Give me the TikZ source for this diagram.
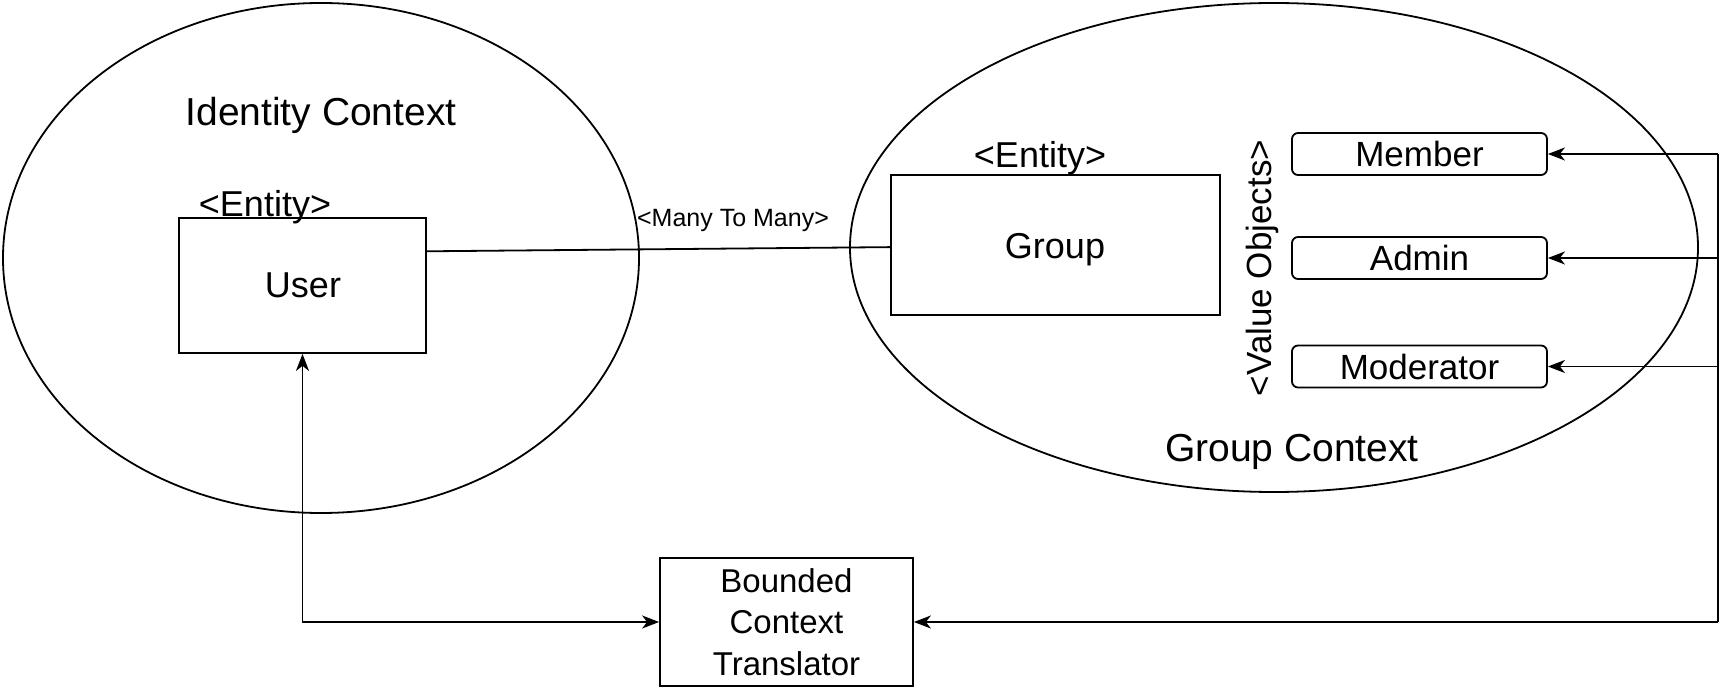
\documentclass[tikz,border=0pt]{standalone}
\usepackage{fontspec}
\setmainfont{Liberation Sans}
\usetikzlibrary{shapes.geometric,arrows.meta,calc}
\newcommand{\FontBig}{\fontsize{39}{44}\selectfont}
\newcommand{\FontMid}{\fontsize{36}{42}\selectfont}
\newcommand{\FontVO}{\fontsize{35}{42}\selectfont}
\newcommand{\FontBox}{\fontsize{35}{40}\selectfont}
\newcommand{\FontSmall}{\fontsize{25}{30}\selectfont}
\newcommand{\FontTr}{\fontsize{33}{41.5}\selectfont}
\begin{document}
\begin{tikzpicture}[x=1pt,y=-1pt,line width=1.8pt,
  ctx/.style={draw, ellipse, inner sep=0pt},
  ent/.style={draw, rectangle, inner sep=0pt},
  vo/.style={draw, rectangle, rounded corners=6pt, inner sep=0pt,
             minimum width=255pt, minimum height=42pt, font=\FontBox},
  lbl/.style={anchor=base, inner sep=0pt},
  arr/.style={-{Stealth[length=17pt,width=13pt,inset=5pt]}},
  biarr/.style={{Stealth[length=17pt,width=13pt,inset=5pt]}-{Stealth[length=17pt,width=13pt,inset=5pt]}}
]
\fill[white] (0,0) rectangle (1725,692);
\useasboundingbox (0,0) rectangle (1725,692);

% contexts
\node[ctx, minimum width=636pt, minimum height=510pt] (idctx) at (321,258) {};
\node[ctx, minimum width=848pt, minimum height=489pt] (grctx) at (1274,247.5) {};
\node[lbl, font=\FontBig] (idlabel) at (321,126) {Identity Context};
\node[lbl, font=\FontBig] (grlabel) at (1292,462) {Group Context};

% entities
\node[ent, minimum width=247pt, minimum height=135pt] (user) at (302.5,285.5) {};
\node[lbl, font=\FontMid] (usertxt) at (303,298) {User};
\node[lbl, font=\FontMid] (userent) at (265,217) {<Entity>};

\node[ent, minimum width=329pt, minimum height=140pt] (group) at (1055.5,245) {};
\node[lbl, font=\FontMid] (grouptxt) at (1055,259) {Group};
\node[lbl, font=\FontMid] (groupent) at (1040,168) {<Entity>};

% value objects
\node[font=\FontVO, rotate=90, inner sep=0pt] (vol) at (1262,268) {<Value Objects>};
\node[vo] (member) at (1419.5,154) {Member};
\node[vo] (admin) at (1419.5,258) {Admin};
\node[vo] (moder) at (1419.5,366.5) {Moderator};

% translator
\node[ent, minimum width=253pt, minimum height=128pt, align=center, font=\FontTr] (tr) at (786.5,622) {Bounded\\Context\\Translator};

% many to many
\coordinate (uright) at ($(user.north east)!0.25!(user.south east)$);
\coordinate (gleft) at ($(group.north west)!0.515!(group.south west)$);
\draw (uright) -- (gleft);
\node[lbl, font=\FontSmall] (mtm) at (733,227) {<Many To Many>};

% connectors
\coordinate (rtop) at (1718,154);
\coordinate (rbot) at (1718,622);
\draw (rtop) -- (rbot);
\draw[arr] (rtop) -- (member.east);
\draw[arr] (admin.east -| rtop) -- (admin.east);
\draw[arr] (moder.east -| rtop) -- (moder.east);
\draw[arr] (rbot) -- (tr.east);
\draw[biarr] (user.south) |- (tr.west);
\end{tikzpicture}
\end{document}
